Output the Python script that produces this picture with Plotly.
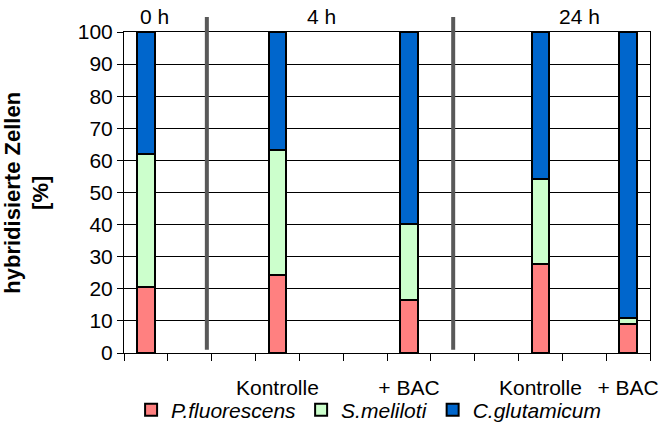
import plotly.graph_objects as go

# ---- data ----
groups = ["0 h", "4 h Kontrolle", "4 h + BAC", "24 h Kontrolle", "24 h + BAC"]
x_pos = [0.5, 3.5, 6.5, 9.5, 11.5]
p_fluorescens = [20.7, 24.3, 16.5, 27.6, 9.0]
s_meliloti = [41.2, 38.9, 23.6, 26.5, 1.8]
c_glutamicum = [round(100 - a - b, 1) for a, b in zip(p_fluorescens, s_meliloti)]

series_names = ["P.fluorescens", "S.meliloti", "C.glutamicum"]
series_colors = ["#FF8080", "#CCFFCC", "#0066CC"]

tick_label_pos = [3.5, 6.5, 9.5, 11.5]
tick_labels = ["Kontrolle", "+ BAC", "Kontrolle", "+ BAC"]
time_labels = ["0 h", "4 h", "24 h"]
time_label_pos = [0.7, 4.5, 10.4]
divider_pos = [1.89, 7.51]

FONT = "Liberation Sans, Arial, sans-serif"

fig = go.Figure()
for name, vals, col in zip(series_names, [p_fluorescens, s_meliloti, c_glutamicum], series_colors):
    fig.add_trace(go.Bar(
        x=x_pos, y=vals, name=name, width=0.4,
        marker=dict(color=col, line=dict(color="black", width=2)),
        customdata=groups,
    ))

for xp in divider_pos:
    fig.add_shape(type="line", xref="x", yref="paper", x0=xp, x1=xp, y0=0.01, y1=1.047,
                  line=dict(color="#595959", width=4), layer="above")

for txt, xp in zip(time_labels, time_label_pos):
    fig.add_annotation(text=txt, x=xp, xref="x", y=1.047, yref="paper",
                       showarrow=False, font=dict(size=21, color="black", family=FONT),
                       yanchor="middle")

fig.add_annotation(text="<b>hybridisierte Zellen<br>[%]</b>", x=-0.186, xref="paper", y=0.5, yref="paper",
                   showarrow=False, textangle=-90, font=dict(size=22, color="black", family=FONT),
                   xanchor="center", yanchor="middle")

fig.update_layout(
    width=665, height=423,
    margin=dict(l=124, r=15, t=32, b=70, autoexpand=False),
    barmode="stack",
    plot_bgcolor="white", paper_bgcolor="white",
    font=dict(family=FONT, size=21, color="black"),
    showlegend=True,
    legend=dict(orientation="h", x=0.465, xanchor="center", y=-0.178, yanchor="middle",
                font=dict(size=21, style="italic"), traceorder="normal",
                bgcolor="rgba(0,0,0,0)", itemwidth=30, tracegroupgap=0),
    bargap=0,
)
fig.update_xaxes(range=[0, 12], tickvals=tick_label_pos, ticktext=tick_labels, ticks="",
                 showgrid=False, showline=True, linecolor="black", linewidth=1,
                 minor=dict(tickvals=list(range(13)), ticks="outside", ticklen=7, tickcolor="black", showgrid=False),
                 ticklabelstandoff=16, mirror=True, zeroline=False, automargin=False)
fig.update_yaxes(range=[0, 100], dtick=10, showgrid=True, gridcolor="black", gridwidth=1,
                 ticks="outside", ticklen=6, tickcolor="black", automargin=False,
                 showline=True, linecolor="black", linewidth=1, mirror=True, zeroline=False)

# remove the browser's default 8px body margin so the 665x423 figure fills the window
fig.write_html("out.html", config={"displayModeBar": False},
               post_script="document.body.style.margin='0';")
